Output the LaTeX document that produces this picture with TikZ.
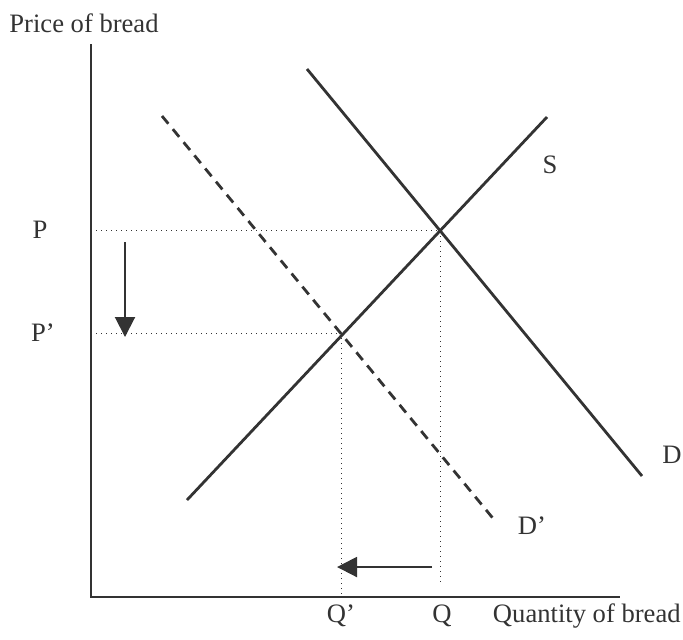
\documentclass[tikz,border=0pt]{standalone}
\usepackage{fontspec}
\setmainfont{Liberation Serif}
\usetikzlibrary{arrows.meta}
\definecolor{Ink}{HTML}{333333}

\begin{document}
\begin{tikzpicture}[x=0.5pt,y=-0.5pt,every node/.style={font=\fontsize{13.3}{16}\selectfont,text=Ink,inner sep=0pt}]
  \useasboundingbox (0,0) rectangle (683,639);
  % axes
  \coordinate (o) at (91,597);
  \coordinate (ytop) at (91,44);
  \coordinate (xend) at (620,597);
  \draw[Ink,line width=1.2pt] (ytop) -- (o) -- (xend);
  \node[anchor=base west] (ylab) at (9,32) {Price of bread};
  \node[anchor=base east] (xlab) at (681,622) {Quantity of bread};
  % curves
  \coordinate (s1) at (187,500);
  \coordinate (s2) at (547,117);
  \coordinate (d1) at (307,69);
  \coordinate (d2) at (642,476);
  \coordinate (n1) at (162,116);
  \coordinate (n2) at (496,522);
  \draw[Ink,line width=1.4pt] (s1) -- (s2);
  \draw[Ink,line width=1.4pt] (d1) -- (d2);
  \draw[Ink,line width=1.4pt,dash pattern=on 5pt off 3.5pt] (n1) -- (n2);
  \node (slab) at (550,165) {S};
  \node (dlab) at (672,455) {D};
  \node (nlab) at (532,526) {D’};
  % equilibria
  \coordinate (e) at (440,230);
  \coordinate (e2) at (341,333);
  \coordinate (pa) at (91,230);
  \coordinate (pb) at (91,333);
  \coordinate (qa) at (440,583);
  \coordinate (qb) at (341,597);
  \draw[Ink,line width=0.5pt,dotted] (pa) -- (e) -- (qa);
  \draw[Ink,line width=0.5pt,dotted] (pb) -- (e2) -- (qb);
  \node (plab) at (40,230) {P};
  \node (pplab) at (43,333) {P’};
  \node[anchor=base] (qlab) at (442,622) {Q};
  \node[anchor=base] (qqlab) at (341,622) {Q’};
  % shifts
  \coordinate (a1) at (125,242);
  \coordinate (a2) at (125,337);
  \coordinate (b1) at (432,567);
  \coordinate (b2) at (337,567);
  \draw[-{Triangle[length=10pt,width=10pt]},Ink,line width=1pt] (a1) -- (a2);
  \draw[-{Triangle[length=10pt,width=10pt]},Ink,line width=1pt] (b1) -- (b2);
\end{tikzpicture}
\end{document}
